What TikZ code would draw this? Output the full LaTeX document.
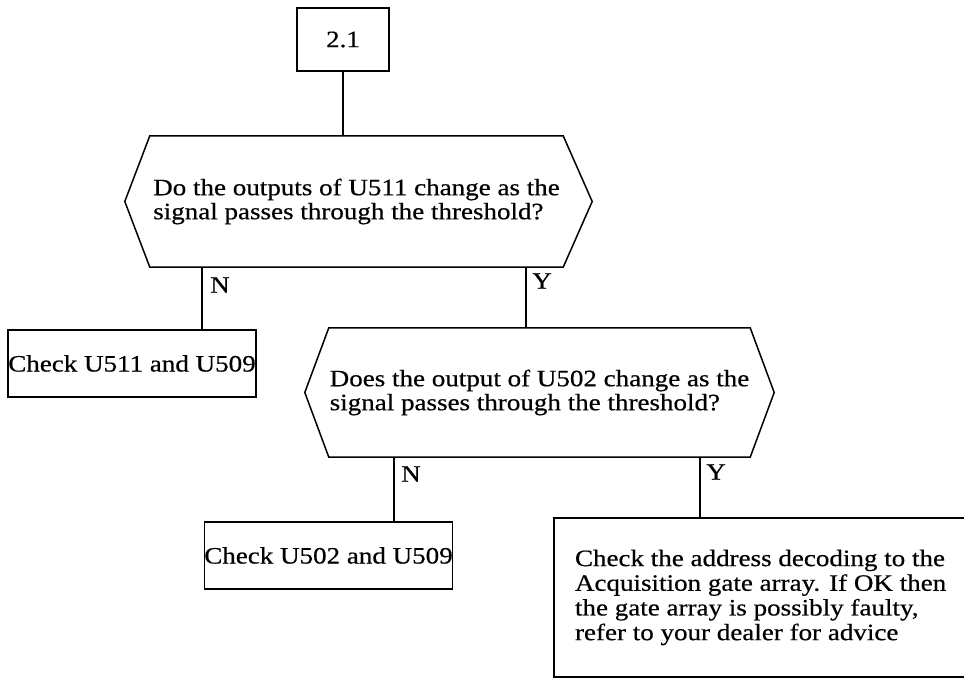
\documentclass[tikz,border=0pt]{standalone}
\usepackage{fontspec}
\setmainfont{Liberation Serif}[FakeStretch=1.15,FakeBold=0.5]
\tikzset{
  boxst/.style={draw, line width=1.5pt, rectangle, inner sep=0pt},
  hexbox/.style={rectangle, inner sep=0pt, align=left},
  hexline/.style={line width=1.5pt, line join=miter},
  conn/.style={line width=2.3pt},
  yn/.style={inner sep=0pt},
}
\begin{document}
\begin{tikzpicture}[x=1pt,y=-1pt, every node/.style={font=\fontsize{23.5}{24}\selectfont}]
\useasboundingbox (0,0) rectangle (964,679);
% start box
\node[boxst, minimum width=92pt, minimum height=63pt] (b21) at (343,39.5) {2.1};
% decision 1
\node[hexbox, minimum width=413pt, minimum height=131pt] (hex1) at (356.5,201.5)
  {Do the outputs of U511 change as the\\signal passes through the threshold?};
\draw[hexline] (hex1.north west) -- (hex1.north east) -- ([xshift=29pt]hex1.east)
  -- (hex1.south east) -- (hex1.south west) -- ([xshift=-25pt]hex1.west) -- cycle;
% decision 2
\node[hexbox, minimum width=421pt, minimum height=129pt] (hex2) at (539.5,392.5)
  {Does the output of U502 change as the\\signal passes through the threshold?};
\draw[hexline] (hex2.north west) -- (hex2.north east) -- ([xshift=24pt]hex2.east)
  -- (hex2.south east) -- (hex2.south west) -- ([xshift=-24pt]hex2.west) -- cycle;
% outcome boxes
\node[boxst, minimum width=248pt, minimum height=67pt] (u511) at (132,363.5) {Check U511 and U509};
\node[boxst, minimum width=245pt, minimum height=67pt] (u502) at (328.5,555.5) {Check U502 and U509};
\node[inner sep=0pt, minimum width=410pt, minimum height=159pt] (box3) at (759,597.5) {};
\draw[hexline] (box3.north east) -- (box3.north west) -- (box3.south west) -- (box3.south east);
\node[anchor=west, align=left, inner sep=0pt, font=\fontsize{23.5}{24.7}\selectfont] (t3)
  at ([xshift=21pt]box3.west)
  {Check the address decoding to the\\Acquisition gate array. If OK then\\the gate array is possibly faulty,\\refer to your dealer for advice};
% connectors
\draw[conn] (b21.south) -- (b21.south |- hex1.north);
\coordinate (n1) at (202,300);
\draw[conn] (n1 |- hex1.south) -- (n1 |- u511.north);
\coordinate (y1) at (526,300);
\draw[conn] (y1 |- hex1.south) -- (y1 |- hex2.north);
\coordinate (n2) at (394,490);
\draw[conn] (n2 |- hex2.south) -- (n2 |- u502.north);
\coordinate (y2) at (700,490);
\draw[conn] (y2 |- hex2.south) -- (y2 |- box3.north);
% labels
\node[yn] (ln1) at (220,285) {N};
\node[yn] (ly1) at (542,281) {Y};
\node[yn] (ln2) at (411,474) {N};
\node[yn] (ly2) at (716,472) {Y};
\end{tikzpicture}
\end{document}
